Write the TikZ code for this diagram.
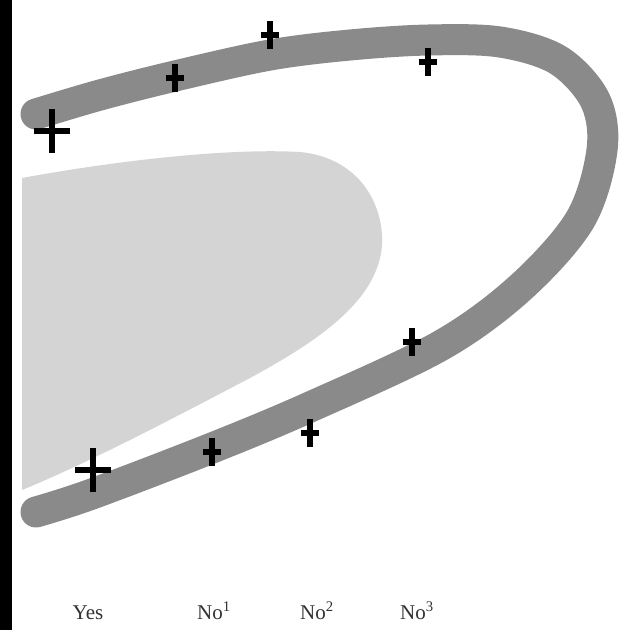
\documentclass[tikz,border=0pt]{standalone}
\usepackage{fontspec}
\setmainfont{Liberation Serif}
\definecolor{bandgray}{HTML}{8A8A8A}
\definecolor{blobgray}{HTML}{D4D4D4}
\tikzset{
  bigplus/.style={line width=6.5pt, black},
  smallplus/.style={line width=5.5pt, black},
  lbl/.style={font=\fontsize{21}{24}\selectfont, text=black!80, inner sep=0pt, anchor=base},
}
\begin{document}
\begin{tikzpicture}[x=1pt,y=-1pt]
\useasboundingbox (0,0) rectangle (620,630);
\fill[white] (0,0) rectangle (620,630);
\fill[black] (0,0) rectangle (12,630);
% light gray region
\fill[blobgray] (22,178) .. controls (120,160) and (230,148) .. (300,152)
  .. controls (360,158) and (384,205) .. (382,245)
  .. controls (378,300) and (320,340) .. (250,378)
  .. controls (170,420) and (90,462) .. (22,490) -- cycle;
% band
\def\bandpath{plot[smooth, tension=0.55] coordinates {(36,114) (100,95) (175,76) (270,55) (350,45) (428,40) (500,42) (558,60) (595,100) (602,150) (580,220) (520,288) (440,346) (310,407) (212,448) (92,494) (36,512)}}
\draw[white, line width=41pt, line cap=round] \bandpath;
\draw[bandgray, line width=31pt, line cap=round] \bandpath;
% crosses
\coordinate (c1) at (52,131);
\coordinate (c2) at (175,78);
\coordinate (c3) at (270,35);
\coordinate (c4) at (428,62);
\coordinate (c5) at (412,342);
\coordinate (c6) at (310,433);
\coordinate (c7) at (212,452);
\coordinate (c8) at (93,470);
\foreach \c in {c1,c8}{
  \draw[bigplus] ([yshift=-22pt]\c) -- ([yshift=22pt]\c);
  \draw[bigplus] ([xshift=-18pt]\c) -- ([xshift=18pt]\c);
}
\foreach \c in {c2,c3,c4,c5,c6,c7}{
  \draw[smallplus] ([yshift=-14pt]\c) -- ([yshift=14pt]\c);
  \draw[smallplus] ([xshift=-9pt]\c) -- ([xshift=9pt]\c);
}
% labels
\node[lbl] (yes) at (88,619) {Yes};
\node[lbl] (no1) at (214,619) {No\textsuperscript{1}};
\node[lbl] (no2) at (317,619) {No\textsuperscript{2}};
\node[lbl] (no3) at (417,619) {No\textsuperscript{3}};
\end{tikzpicture}
\end{document}
